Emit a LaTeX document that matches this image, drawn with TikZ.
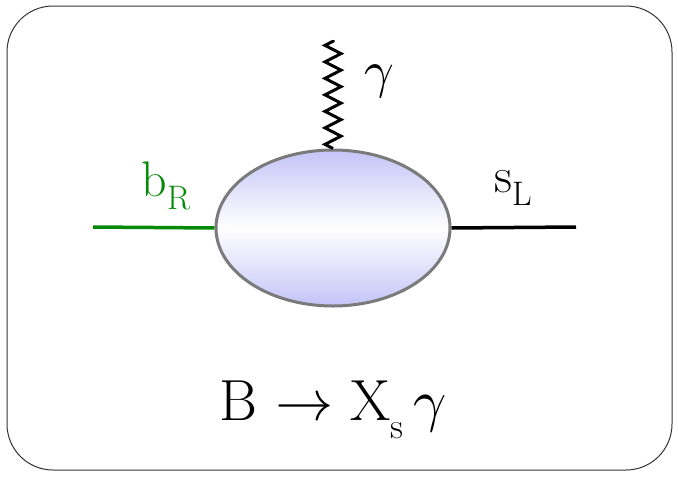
\documentclass[tikz,border=0pt]{standalone}
\usepackage{unicode-math}
\usepackage{tikz}
\usetikzlibrary{shapes.geometric, decorations.pathmorphing, positioning}
\definecolor{quarkgreen}{HTML}{078A07}
\definecolor{blobblue}{HTML}{C4C4F8}
\definecolor{blobedge}{HTML}{7A7A7A}

\begin{document}
\begin{tikzpicture}[x=1pt, y=-1pt,
    frame/.style={draw=black!80, line width=1pt, rounded corners=46pt},
    blob/.style={ellipse, draw=blobedge, line width=3pt, minimum width=234pt,
                 minimum height=156pt, top color=blobblue, bottom color=blobblue,
                 middle color=white},
    quark/.style={line width=3.5pt},
    photon/.style={line width=3pt, decorate,
                   decoration={zigzag, segment length=16.5pt, amplitude=8pt}},
    lbl/.style={font=\fontsize{50}{54}\selectfont, inner sep=0pt},
  ]
  \useasboundingbox (0,0) rectangle (678,477);
  \draw[frame] (7,6) rectangle (672,470);

  \node[blob] (vertex) at (333,228) {};
  \coordinate (bin) at (93,227);
  \coordinate (sout) at (576,227);
  \coordinate (gtop) at (333,40);

  \draw[quark, quarkgreen] (bin) -- (vertex.west);
  \draw[quark] (vertex.east) -- (sout);
  \draw[photon] (vertex.north) -- (gtop);

  \node[lbl, text=quarkgreen] (blabel) at (166,186) {b\raisebox{-0.25em}{\fontsize{34}{36}\selectfont R}};
  \node[lbl] (slabel) at (513,188) {s\raisebox{-0.25em}{\fontsize{34}{36}\selectfont L}};
  \node[lbl, font=\fontsize{52}{56}\selectfont] (glabel) at (379,82) {$\mupgamma$};

  \node[inner sep=0pt, font=\fontsize{58}{62}\selectfont] (decay) at (333,410)
    {B $\rightarrow$ X\raisebox{-0.3em}{\fontsize{36}{40}\selectfont s}\,$\mupgamma$};
\end{tikzpicture}
\end{document}
